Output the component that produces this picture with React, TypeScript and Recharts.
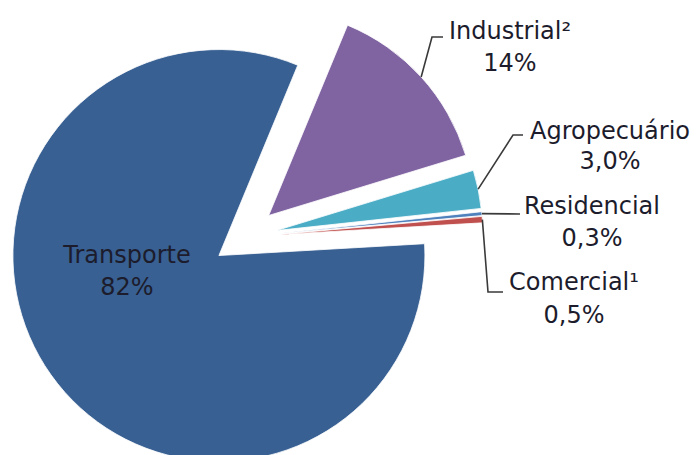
import React from 'react';
import { PieChart, Pie, Cell } from 'recharts';

// consumo por setor (%)
const categories = ['Industrial²', 'Agropecuário', 'Residencial', 'Comercial¹', 'Transporte'];
const shares = [14, 3.0, 0.3, 0.5, 82];
const shareLabels = ['14%', '3,0%', '0,3%', '0,5%', '82%'];
const colors = ['#8064A2', '#4BACC6', '#4F81BD', '#C0504D', '#386092'];

const data = categories.map((name, i) => ({ name, value: shares[i] }));

const RAD = Math.PI / 180;
const START = 67.5;
const END = START - 360;
const RADIUS = 206;
const ORIGIN = { x: 245, y: 237 };
const EXPLODE = 32;

// label placement: elbow points, text centre x, baselines
const LABEL_LAYOUT: Record<string, { path: [number, number][]; tx: number; b1: number; b2: number }> = {
  'Industrial²': { path: [[432, 37], [443, 37]], tx: 510, b1: 39, b2: 71 },
  Agropecuário: { path: [[513, 135], [523, 135]], tx: 610, b1: 139, b2: 169 },
  Residencial: { path: [[520, 214]], tx: 592, b1: 214, b2: 246 },
  'Comercial¹': { path: [[488, 292], [503, 292]], tx: 574, b1: 290, b2: 323 },
  Transporte: { path: [], tx: 127, b1: 263, b2: 295 },
};

const total = shares.reduce((a, b) => a + b, 0);
const midAngles = shares.map((v, i) => {
  const before = shares.slice(0, i).reduce((a, b) => a + b, 0);
  return START - (360 * (before + v / 2)) / total;
});

const FONT = '"DejaVu Sans", Verdana, sans-serif';
const TEXT = '#1c1c2c';

const makeLabel = (j: number) => (p: any) => {
  if (p.index !== j) return null;
  const name = categories[j];
  const lay = LABEL_LAYOUT[name];
  const sx = p.cx + p.outerRadius * Math.cos(-p.midAngle * RAD);
  const sy = p.cy + p.outerRadius * Math.sin(-p.midAngle * RAD);
  const pts = [[sx, sy], ...lay.path].map((q) => q.join(',')).join(' ');
  return (
    <g>
      {lay.path.length > 0 && (
        <polyline points={pts} fill="none" stroke="#3a3a3a" strokeWidth={1.6} />
      )}
      <text x={lay.tx} y={lay.b1} textAnchor="middle" fontFamily={FONT} fontSize={24} fill={TEXT}>
        {name}
      </text>
      <text x={lay.tx} y={lay.b2} textAnchor="middle" fontFamily={FONT} fontSize={24} fill={TEXT}>
        {shareLabels[j]}
      </text>
    </g>
  );
};

// draw Transporte first, then the exploded smaller slices
const order = [4, 0, 1, 2, 3];

export default function App() {
  return (
    <div style={{ position: 'absolute', left: 0, top: 0, width: 696, height: 455, background: '#fff' }}>
      <PieChart width={696} height={455} margin={{ top: 0, right: 0, bottom: 0, left: 0 }}>
        {order.map((j) => {
          const cx = ORIGIN.x + EXPLODE * Math.cos(midAngles[j] * RAD);
          const cy = ORIGIN.y - EXPLODE * Math.sin(midAngles[j] * RAD);
          return (
            <Pie
              key={categories[j]}
              data={data}
              dataKey="value"
              nameKey="name"
              cx={cx}
              cy={cy}
              innerRadius={0}
              outerRadius={RADIUS}
              startAngle={START}
              endAngle={END}
              stroke="none"
              label={makeLabel(j)}
              labelLine={false}
              isAnimationActive={false}
            >
              {data.map((d, i) => (
                <Cell
                  key={d.name}
                  fill={i === j ? colors[i] : 'transparent'}
                  stroke={i === j ? '#ffffff' : 'none'}
                  strokeWidth={0.8}
                />
              ))}
            </Pie>
          );
        })}
      </PieChart>
    </div>
  );
}
